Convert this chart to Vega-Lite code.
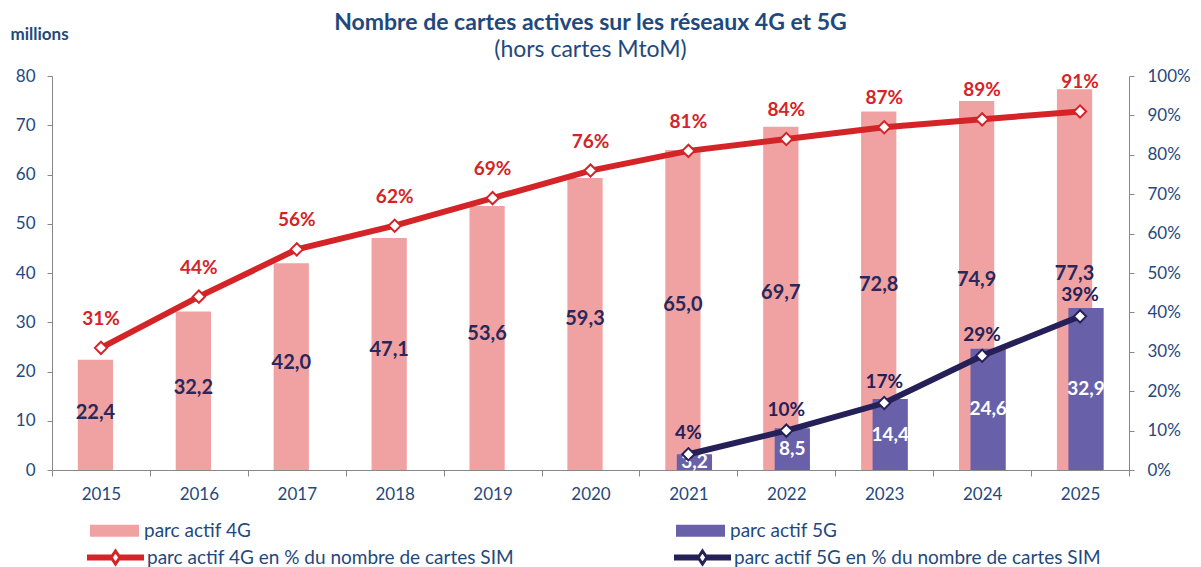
{
  "$schema": "https://vega.github.io/schema/vega-lite/v6.json",
  "width": 1077,
  "height": 394,
  "autosize": {"type": "none"},
  "padding": {"left": 52, "top": 76, "right": 72, "bottom": 97},
  "background": "white",
  "title": {
    "text": "Nombre de cartes actives sur les réseaux 4G et 5G",
    "subtitle": "(hors cartes MtoM)",
    "anchor": "middle",
    "font": "Lato",
    "fontSize": 23,
    "fontWeight": "bold",
    "color": "#1f497d",
    "subtitleFont": "Lato",
    "subtitleFontSize": 23,
    "subtitleColor": "#1f497d",
    "subtitlePadding": 4,
    "offset": -37
  },
  "config": {
    "locale": {
      "number": {"decimal": ",", "thousands": " ", "grouping": [3], "currency": ["", " €"]}
    },
    "view": {"stroke": null},
    "font": "Lato",
    "axis": {
      "labelFont": "Lato",
      "labelFontSize": 17,
      "labelColor": "#1f497d",
      "domainColor": "#888888",
      "tickColor": "#888888",
      "grid": false
    },
    "legend": {
      "labelFont": "Lato",
      "labelFontSize": 19,
      "labelColor": "#1f497d",
      "labelLimit": 600
    }
  },
  "data": {
    "values": [
      {"year": "2015", "v4g": 22.4, "v5g": null, "p4g": 0.31, "p5g": null},
      {"year": "2016", "v4g": 32.2, "v5g": null, "p4g": 0.44, "p5g": null},
      {"year": "2017", "v4g": 42.0, "v5g": null, "p4g": 0.56, "p5g": null},
      {"year": "2018", "v4g": 47.1, "v5g": null, "p4g": 0.62, "p5g": null},
      {"year": "2019", "v4g": 53.6, "v5g": null, "p4g": 0.69, "p5g": null},
      {"year": "2020", "v4g": 59.3, "v5g": null, "p4g": 0.76, "p5g": null},
      {"year": "2021", "v4g": 65.0, "v5g": 3.2, "p4g": 0.81, "p5g": 0.04},
      {"year": "2022", "v4g": 69.7, "v5g": 8.5, "p4g": 0.84, "p5g": 0.10},
      {"year": "2023", "v4g": 72.8, "v5g": 14.4, "p4g": 0.87, "p5g": 0.17},
      {"year": "2024", "v4g": 74.9, "v5g": 24.6, "p4g": 0.89, "p5g": 0.29},
      {"year": "2025", "v4g": 77.3, "v5g": 32.9, "p4g": 0.91, "p5g": 0.39}
    ]
  },
  "encoding": {
    "x": {
      "field": "year",
      "type": "nominal",
      "scale": {"paddingInner": 0, "paddingOuter": 0},
      "axis": {
        "title": null,
        "labelAngle": 0,
        "tickBand": "extent",
        "tickSize": 6,
        "labelPadding": 10
      }
    }
  },
  "layer": [
    {
      "mark": {"type": "bar", "width": {"band": 0.36}, "xOffset": -5.5},
      "encoding": {
        "y": {
          "field": "v4g",
          "type": "quantitative",
          "scale": {"domain": [0, 80]},
          "axis": {
            "title": "millions",
            "titleAngle": 0,
            "titleAlign": "left",
            "titleBaseline": "middle",
            "titleX": -42,
            "titleY": -42,
            "titleFont": "Lato",
            "titleFontSize": 17,
            "titleFontWeight": "bold",
            "titleColor": "#1f497d",
            "values": [0, 10, 20, 30, 40, 50, 60, 70, 80],
            "tickSize": 5,
            "labelPadding": 12,
            "orient": "left"
          }
        },
        "fill": {
          "datum": "parc actif 4G",
          "type": "nominal",
          "scale": {"domain": ["parc actif 4G", "parc actif 5G"], "range": ["#f0a1a1", "#6861a9"]},
          "legend": {
            "title": null,
            "orient": "none",
            "legendX": 38,
            "legendY": 430,
            "direction": "horizontal",
            "columns": 2,
            "columnPadding": 424,
            "symbolType": "M-1,-0.24H1V0.24H-1Z",
            "symbolSize": 2401,
            "symbolStrokeWidth": 0,
            "labelOffset": 5
          }
        }
      }
    },
    {
      "transform": [{"filter": "datum.v5g != null"}],
      "mark": {"type": "bar", "width": {"band": 0.36}, "xOffset": 6},
      "encoding": {
        "y": {"field": "v5g", "type": "quantitative", "scale": {"domain": [0, 80]}, "axis": null},
        "fill": {
          "datum": "parc actif 5G",
          "type": "nominal",
          "scale": {"domain": ["parc actif 4G", "parc actif 5G"], "range": ["#f0a1a1", "#6861a9"]}
        }
      }
    },
    {
      "mark": {"type": "text", "dx": -5.5, "baseline": "middle", "fontSize": 20, "fontWeight": "bold", "color": "#28285c", "font": "Lato"},
      "encoding": {
        "y": {"field": "v4g", "type": "quantitative", "scale": {"domain": [0, 155]}, "axis": null},
        "text": {"field": "v4g", "type": "quantitative", "format": ".1f"}
      }
    },
    {
      "transform": [{"filter": "datum.v5g != null"}],
      "mark": {"type": "text", "dx": 6, "baseline": "middle", "fontSize": 19, "fontWeight": "bold", "color": "white", "font": "Lato"},
      "encoding": {
        "y": {"field": "v5g", "type": "quantitative", "scale": {"domain": [0, 160]}, "axis": null},
        "text": {"field": "v5g", "type": "quantitative", "format": ".1f"}
      }
    },
    {
      "mark": {"type": "line", "strokeWidth": 6},
      "encoding": {
        "y": {
          "field": "p4g",
          "type": "quantitative",
          "scale": {"domain": [0, 1]},
          "axis": {
            "title": null,
            "orient": "right",
            "values": [0, 0.1, 0.2, 0.3, 0.4, 0.5, 0.6, 0.7, 0.8, 0.9, 1],
            "format": ".0%",
            "tickSize": 5,
            "labelPadding": 13
          }
        },
        "stroke": {
          "datum": "parc actif 4G en % du nombre de cartes SIM",
          "type": "nominal",
          "scale": {
            "domain": ["parc actif 4G en % du nombre de cartes SIM", "parc actif 5G en % du nombre de cartes SIM"],
            "range": ["#d42428", "#252158"]
          },
          "legend": {
            "title": null,
            "orient": "none",
            "legendX": 35,
            "legendY": 453,
            "direction": "horizontal",
            "columns": 2,
            "columnPadding": 155,
            "symbolType": "M-1,-0.056H-0.16V0.056H-1ZM0.16,-0.056H1V0.056H0.16ZM0,-0.24L0.16,0L0,0.24L-0.16,0Z",
            "symbolSize": 2916,
            "symbolStrokeWidth": 3,
            "labelOffset": 3,
            "encode": {"symbols": {"update": {"fill": {"value": "white"}, "opacity": {"value": 1}}}}
          }
        }
      }
    },
    {
      "mark": {"type": "point", "shape": "diamond", "filled": true, "fill": "white", "stroke": "#d42428", "strokeWidth": 2, "size": 150, "opacity": 1},
      "encoding": {
        "y": {"field": "p4g", "type": "quantitative", "scale": {"domain": [0, 1]}, "axis": null}
      }
    },
    {
      "transform": [{"filter": "datum.p5g != null"}],
      "mark": {"type": "line", "strokeWidth": 6},
      "encoding": {
        "y": {"field": "p5g", "type": "quantitative", "scale": {"domain": [0, 1]}, "axis": null},
        "stroke": {
          "datum": "parc actif 5G en % du nombre de cartes SIM",
          "type": "nominal",
          "scale": {
            "domain": ["parc actif 4G en % du nombre de cartes SIM", "parc actif 5G en % du nombre de cartes SIM"],
            "range": ["#d42428", "#252158"]
          }
        }
      }
    },
    {
      "transform": [{"filter": "datum.p5g != null"}],
      "mark": {"type": "point", "shape": "diamond", "filled": true, "fill": "white", "stroke": "#252158", "strokeWidth": 2, "size": 150, "opacity": 1},
      "encoding": {
        "y": {"field": "p5g", "type": "quantitative", "scale": {"domain": [0, 1]}, "axis": null}
      }
    },
    {
      "mark": {"type": "text", "dy": -29, "baseline": "middle", "fontSize": 19, "fontWeight": "bold", "color": "#d42428", "font": "Lato"},
      "encoding": {
        "y": {"field": "p4g", "type": "quantitative", "scale": {"domain": [0, 1]}, "axis": null},
        "text": {"field": "p4g", "type": "quantitative", "format": ".0%"}
      }
    },
    {
      "transform": [{"filter": "datum.p5g != null"}],
      "mark": {"type": "text", "dy": -21, "baseline": "middle", "fontSize": 19, "fontWeight": "bold", "color": "#252158", "font": "Lato"},
      "encoding": {
        "y": {"field": "p5g", "type": "quantitative", "scale": {"domain": [0, 1]}, "axis": null},
        "text": {"field": "p5g", "type": "quantitative", "format": ".0%"}
      }
    }
  ],
  "resolve": {"scale": {"y": "independent"}}
}
